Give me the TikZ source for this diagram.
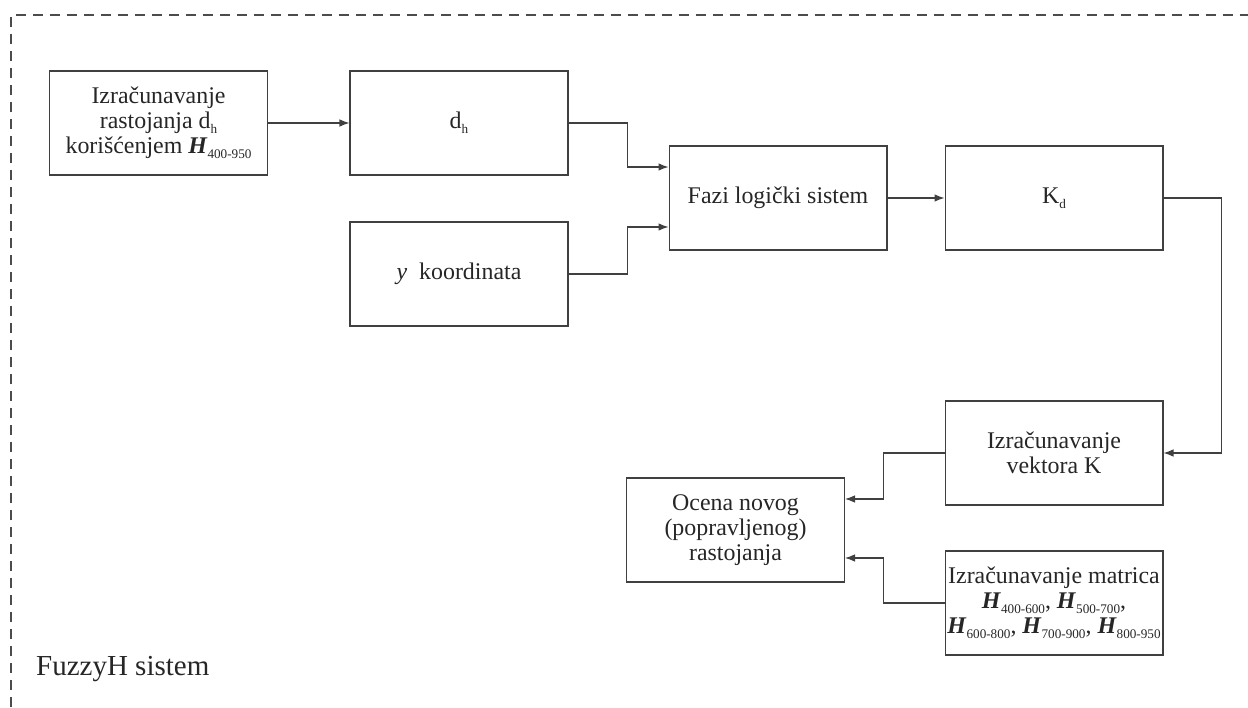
\documentclass[tikz,border=0pt]{standalone}
\usepackage{fontspec}
\setmainfont{Liberation Serif}
\usepackage{tikz}
\usetikzlibrary{arrows.meta}

\newcommand{\sub}[1]{\raisebox{-0.45ex}{\fontsize{7.5}{8}\selectfont #1}}
\newcommand{\Hmat}[1]{\textbf{\textit{H}}\sub{#1}}

\begin{document}
\begin{tikzpicture}[x=0.02cm,y=0.02cm,font=\fontsize{13.6}{14.2}\selectfont,
  blok/.style={draw=black!75,line width=0.6pt,text=black!85,align=center,
    minimum width=4.36cm,minimum height=2.08cm,inner sep=1pt},
  veza/.style={draw=black!75,line width=0.6pt,-{Latex[length=2mm,width=1.5mm]}}]
  \useasboundingbox (0,0) rectangle (1248,707);
  % okvir
  \draw[black!70,line width=0.7pt,dash pattern=on 0.2cm off 0.14cm]
    (11,0) -- (11,692) -- (1248,692);
  \node[anchor=west,text=black!85,font=\fontsize{16.5}{18}\selectfont] (naziv) at (30,38) {FuzzyH sistem};
  % blokovi
  \node[blok] (izr) at (158.5,584) {Izračunavanje\\rastojanja d\sub{h}\\korišćenjem \Hmat{400-950}};
  \node[blok] (dh) at (459,584) {d\sub{h}};
  \node[blok] (ykoord) at (459,433) {\textit{y}\ \ koordinata};
  \node[blok] (fazi) at (778,509) {Fazi logički sistem};
  \node[blok] (kd) at (1054,509) {K\sub{d}};
  \node[blok] (vektor) at (1054,254) {Izračunavanje\\vektora K};
  \node[blok] (ocena) at (735.5,177) {Ocena novog\\(popravljenog)\\rastojanja};
  \node[blok,inner sep=0pt] (matrice) at (1054,104) {Izračunavanje matrica\\\Hmat{400-600}, \Hmat{500-700},\\\Hmat{600-800}, \Hmat{700-900}, \Hmat{800-950}};
  % ulazi
  \coordinate (fazi1) at ([yshift=0.62cm]fazi.west);
  \coordinate (fazi2) at ([yshift=-0.58cm]fazi.west);
  \coordinate (ocena1) at ([yshift=0.62cm]ocena.east);
  \coordinate (ocena2) at ([yshift=-0.56cm]ocena.east);
  % veze
  \draw[veza] (izr) -- (dh);
  \draw[veza] (dh.east) -- ([xshift=1.18cm]dh.east) |- (fazi1);
  \draw[veza] (ykoord.east) -- ([xshift=1.18cm]ykoord.east) |- (fazi2);
  \draw[veza] (fazi) -- (kd);
  \draw[veza] (kd.east) -- ([xshift=1.16cm]kd.east) |- (vektor.east);
  \draw[veza] (vektor.west) -- ([xshift=-1.22cm]vektor.west) |- (ocena1);
  \draw[veza] (matrice.west) -- ([xshift=-1.22cm]matrice.west) |- (ocena2);
\end{tikzpicture}
\end{document}
